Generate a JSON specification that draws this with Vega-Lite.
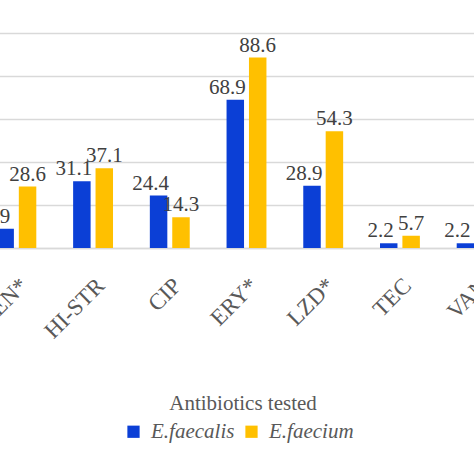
{
  "$schema": "https://vega.github.io/schema/vega-lite/v6.json",
  "autosize": "none",
  "width": 537,
  "height": 215,
  "padding": {"left": -22, "top": 33, "right": -41, "bottom": 226},
  "background": "#ffffff",
  "data": {
    "values": [
      {"antibiotic": "HI-GEN*", "species": "E.faecalis", "pct": 8.9},
      {"antibiotic": "HI-GEN*", "species": "E.faecium", "pct": 28.6},
      {"antibiotic": "HI-STR", "species": "E.faecalis", "pct": 31.1},
      {"antibiotic": "HI-STR", "species": "E.faecium", "pct": 37.1},
      {"antibiotic": "CIP", "species": "E.faecalis", "pct": 24.4},
      {"antibiotic": "CIP", "species": "E.faecium", "pct": 14.3},
      {"antibiotic": "ERY*", "species": "E.faecalis", "pct": 68.9},
      {"antibiotic": "ERY*", "species": "E.faecium", "pct": 88.6},
      {"antibiotic": "LZD*", "species": "E.faecalis", "pct": 28.9},
      {"antibiotic": "LZD*", "species": "E.faecium", "pct": 54.3},
      {"antibiotic": "TEC", "species": "E.faecalis", "pct": 2.2},
      {"antibiotic": "TEC", "species": "E.faecium", "pct": 5.7},
      {"antibiotic": "VAN", "species": "E.faecalis", "pct": 2.2}
    ]
  },
  "encoding": {
    "x": {
      "field": "antibiotic",
      "type": "nominal",
      "sort": ["HI-GEN*", "HI-STR", "CIP", "ERY*", "LZD*", "TEC", "VAN"],
      "scale": {"paddingInner": 0.48, "paddingOuter": 0.24},
      "axis": {
        "title": "Antibiotics tested",
        "titleFont": "Liberation Serif",
        "titleFontSize": 21,
        "titleFontWeight": "normal",
        "titleColor": "#595959",
        "titleX": 264.5,
        "titleY": 161,
        "titleBaseline": "alphabetic",
        "labelAngle": -45,
        "labelFont": "Liberation Serif",
        "labelFontSize": 23,
        "labelColor": "#595959",
        "labelPadding": 26,
        "ticks": false,
        "domainColor": "#D9D9D9",
        "domainWidth": 1.3
      }
    },
    "xOffset": {
      "field": "species",
      "type": "nominal",
      "sort": ["E.faecalis", "E.faecium"],
      "scale": {"paddingInner": 0.22, "paddingOuter": 0}
    },
    "y": {
      "field": "pct",
      "type": "quantitative",
      "scale": {"domain": [0, 100]},
      "axis": {
        "title": null,
        "values": [0, 20, 40, 60, 80, 100],
        "domain": false,
        "ticks": false,
        "gridColor": "#D9D9D9",
        "gridWidth": 1.3,
        "labelFont": "Liberation Serif",
        "labelFontSize": 21,
        "labelColor": "#595959"
      }
    }
  },
  "layer": [
    {
      "mark": {"type": "bar"},
      "encoding": {
        "color": {
          "field": "species",
          "type": "nominal",
          "sort": ["E.faecalis", "E.faecium"],
          "scale": {"domain": ["E.faecalis", "E.faecium"], "range": ["#0B3FD6", "#FFC000"]},
          "legend": {
            "title": null,
            "orient": "none",
            "direction": "horizontal",
            "legendX": 145,
            "legendY": 388,
            "padding": 0,
            "symbolType": "square",
            "symbolSize": 150,
            "symbolStrokeWidth": 0,
            "symbolOpacity": 1,
            "labelFont": "Liberation Serif",
            "labelFontSize": 21,
            "labelFontStyle": "italic",
            "labelColor": "#595959",
            "labelOffset": 7,
            "columnPadding": 6
          }
        }
      }
    },
    {
      "transform": [{"filter": "datum.species === 'E.faecalis'"}],
      "mark": {"type": "text", "font": "Liberation Serif", "fontSize": 21, "color": "#404040", "baseline": "alphabetic", "dy": -6, "dx": -8},
      "encoding": {"text": {"field": "pct", "type": "quantitative", "format": ".1f"}}
    },
    {
      "transform": [{"filter": "datum.species === 'E.faecium'"}],
      "mark": {"type": "text", "font": "Liberation Serif", "fontSize": 21, "color": "#404040", "baseline": "alphabetic", "dy": -6},
      "encoding": {"text": {"field": "pct", "type": "quantitative", "format": ".1f"}}
    }
  ],
  "config": {
    "font": "Liberation Serif",
    "text": {"font": "Liberation Serif"},
    "view": {"stroke": null}
  }
}
